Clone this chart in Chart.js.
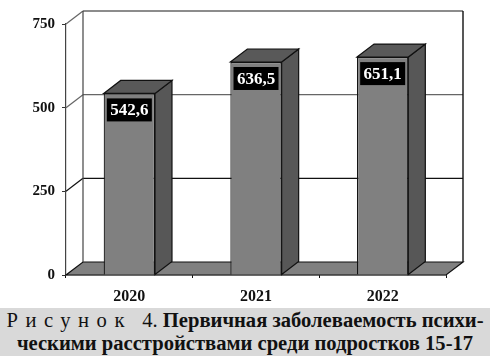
<!DOCTYPE html>
<html lang="ru">
<head>
<meta charset="utf-8">
<script src="https://cdn.jsdelivr.net/npm/chart.js@4"></script>
<style>
html, body { margin: 0; padding: 0; background: #fff; }
#wrap { position: relative; width: 490px; height: 356px; overflow: hidden; }
#chart { position: absolute; left: 0; top: 0; }
#caption {
    position: absolute; left: 0; top: 308px; width: 490px; height: 47px; padding-top: 1px;
    background: #d9d9d9; color: #111;
    font-family: "Liberation Serif", serif; font-size: 20.6px; line-height: 23px;
    text-align: center; white-space: nowrap;
}
#caption .sp { letter-spacing: 7.5px; font-weight: normal; }
#caption b { font-weight: bold; }
</style>
</head>
<body>
<div id="wrap">
    <canvas id="chart" width="490" height="308"></canvas>
    <div id="caption"><span class="sp">Рисунок</span>&nbsp; 4. <b>Первичная заболеваемость психи-<br>ческими расстройствами среди подростков 15-17</b></div>
</div>
<script>
const years = ['2020', '2021', '2022'];
const rates = [542.6, 636.5, 651.1];
const rateLabels = ['542,6', '636,5', '651,1'];
const yTicks = [0, 250, 500, 750];

// сдвиг задней стенки "псевдо-3D"
const depthX = 17;
const depthY = 13;

function line(c, x1, y1, x2, y2, color, w) {
    c.beginPath();
    c.moveTo(x1, y1);
    c.lineTo(x2, y2);
    c.strokeStyle = color;
    c.lineWidth = w;
    c.stroke();
}

function poly(c, pts, fill) {
    c.beginPath();
    pts.forEach((p, i) => i ? c.lineTo(p[0], p[1]) : c.moveTo(p[0], p[1]));
    c.closePath();
    c.fillStyle = fill;
    c.fill();
    c.strokeStyle = '#111';
    c.lineWidth = 1.2;
    c.stroke();
}

// Стенки, пол и линии сетки
const wallsPlugin = {
    id: 'walls',
    beforeDatasetsDraw(chart) {
        const c = chart.ctx;
        const { left, right } = chart.chartArea;
        const y = chart.scales.y;
        const top = y.getPixelForValue(750);
        const bottom = y.getPixelForValue(0);
        c.save();
        poly(c, [[left, bottom], [right, bottom], [right + depthX, bottom - depthY], [left + depthX, bottom - depthY]], '#808080');
        yTicks.forEach(v => {
            const py = y.getPixelForValue(v);
            if (v > 0) {
                const color = v === 250 ? '#111' : '#666';
                line(c, left, py, left + depthX, py - depthY, color, 1.2);
                line(c, left + depthX, py - depthY, right + depthX, py - depthY, color, v === 750 ? 1.6 : 1.2);
            }
        });
        line(c, left + depthX, top - depthY, left + depthX, bottom - depthY, '#444', 1.2);
        line(c, right + depthX, top - depthY, right + depthX, bottom - depthY, '#111', 1.4);
        c.restore();
    },
    afterDatasetsDraw(chart) {
        const c = chart.ctx;
        const bars = chart.getDatasetMeta(0).data;
        c.save();
        bars.forEach((bar, i) => {
            const l = bar.x - bar.width / 2;
            const r = bar.x + bar.width / 2;
            poly(c, [[r, bar.y], [r + depthX, bar.y - depthY], [r + depthX, bar.base - depthY], [r, bar.base]], '#575757');
            poly(c, [[l, bar.y], [l + depthX, bar.y - depthY], [r + depthX, bar.y - depthY], [r, bar.y]], '#595959');
            // подпись значения на чёрной плашке
            const boxW = 45, boxH = 23;
            const boxY = bar.y + 5;
            c.fillStyle = '#000';
            c.fillRect(bar.x - boxW / 2, boxY, boxW, boxH);
            c.fillStyle = '#fff';
            c.font = 'bold 17px "Liberation Serif", serif';
            c.textAlign = 'center';
            c.textBaseline = 'middle';
            c.fillText(rateLabels[i], bar.x, boxY + boxH / 2 + 1);
        });
        c.restore();
    }
};

new Chart(document.getElementById('chart').getContext('2d'), {
    type: 'bar',
    data: {
        labels: years,
        datasets: [{
            data: rates,
            backgroundColor: '#808080',
            borderColor: '#111',
            borderWidth: 1.2,
            barPercentage: 0.405,
            categoryPercentage: 1
        }]
    },
    options: {
        responsive: false,
        animation: false,
        layout: { padding: { top: 24, right: 44, left: 0, bottom: 0 } },
        plugins: { legend: { display: false }, tooltip: { enabled: false } },
        scales: {
            x: {
                afterFit: s => { s.height = 33; },
                grid: { drawOnChartArea: false, color: '#111', tickLength: 3, offset: true },
                border: { color: '#111', width: 1.2 },
                ticks: { color: '#111', padding: 9, font: { family: 'Liberation Serif', weight: 'bold', size: 16 } }
            },
            y: {
                min: 0,
                max: 750,
                afterFit: s => { s.width = 66; },
                afterBuildTicks: s => { s.ticks = yTicks.map(v => ({ value: v })); },
                grid: { drawOnChartArea: false, color: '#333', tickLength: 4 },
                border: { color: '#444', width: 1.2 },
                ticks: { color: '#111', padding: 7, font: { family: 'Liberation Serif', weight: 'bold', size: 15 } }
            }
        }
    },
    plugins: [wallsPlugin]
});
</script>
</body>
</html>
